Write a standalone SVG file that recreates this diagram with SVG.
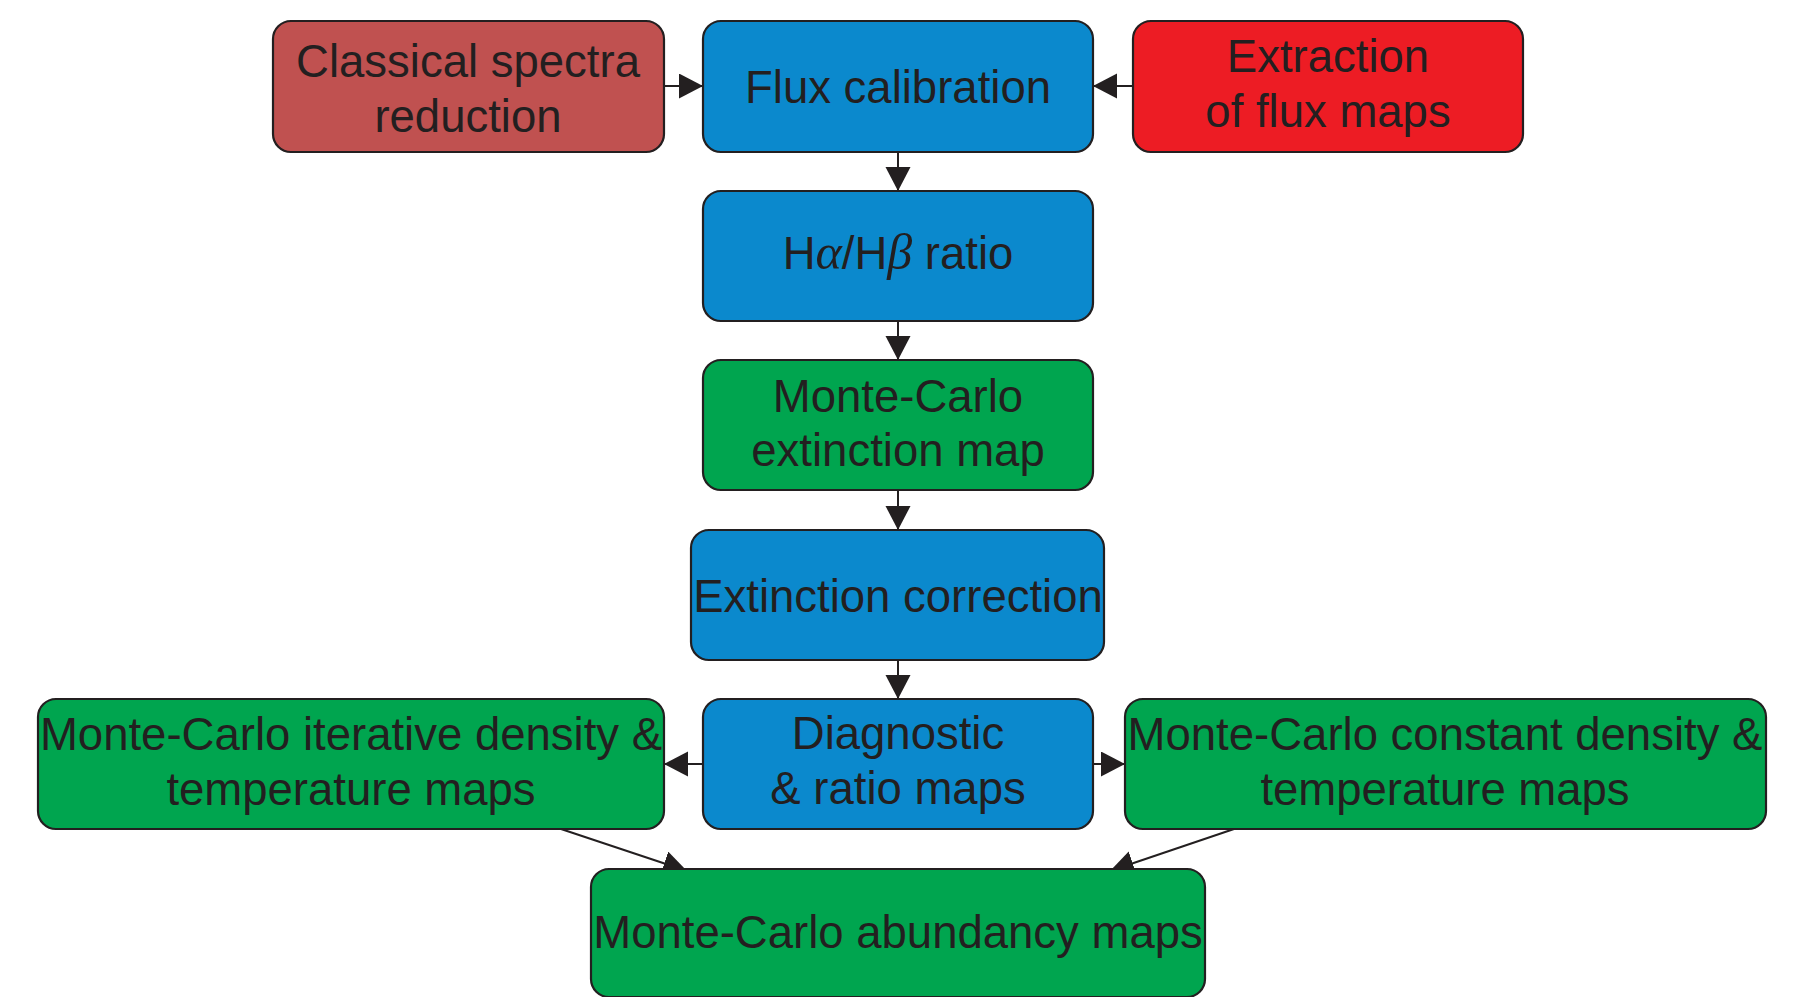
<svg xmlns="http://www.w3.org/2000/svg" width="1804" height="997" viewBox="0 0 1804 997">
<defs>
<style>
.box{stroke:#231f20;stroke-width:2.2}
.red1{fill:#c05150}
.blue{fill:#0b89cd}
.red2{fill:#ed1c24}
.green{fill:#00a54f}
.t{font-family:"Liberation Sans",Arial,sans-serif;font-size:45.5px;fill:#231f20;text-anchor:middle}
.g{font-family:"Liberation Serif","Times New Roman",serif;font-style:italic;font-size:50px}
.c{stroke:#231f20;stroke-width:2;fill:none;marker-end:url(#ah)}
</style>
<marker id="ah" markerUnits="userSpaceOnUse" markerWidth="26" markerHeight="26" refX="24" refY="12.5" orient="auto">
<path d="M0,0 L24,12.5 L0,25 Z" fill="#231f20"/>
</marker>
</defs>
<rect width="1804" height="997" fill="#ffffff"/>
<g id="connectors">
<line class="c" x1="664" y1="86" x2="703" y2="86"/>
<line class="c" x1="1133" y1="86" x2="1093" y2="86"/>
<line class="c" x1="898" y1="152" x2="898" y2="191"/>
<line class="c" x1="898" y1="321" x2="898" y2="360"/>
<line class="c" x1="898" y1="490" x2="898" y2="530"/>
<line class="c" x1="898" y1="660" x2="898" y2="699"/>
<line class="c" x1="703" y1="764" x2="664" y2="764"/>
<line class="c" x1="1093" y1="764" x2="1125" y2="764"/>
<line class="c" x1="561" y1="829" x2="687" y2="871"/>
<line class="c" x1="1234" y1="829" x2="1110" y2="871"/>
</g>
<g id="classical">
<rect class="box red1" x="273" y="21" width="391" height="131" rx="18"/>
<text class="t" x="468" y="77">Classical spectra</text>
<text class="t" x="468" y="132">reduction</text>
</g>
<g id="flux">
<rect class="box blue" x="703" y="21" width="390" height="131" rx="18"/>
<text class="t" x="898" y="103">Flux calibration</text>
</g>
<g id="extraction">
<rect class="box red2" x="1133" y="21" width="390" height="131" rx="18"/>
<text class="t" x="1328" y="72">Extraction</text>
<text class="t" x="1328" y="127">of flux maps</text>
</g>
<g id="ratio">
<rect class="box blue" x="703" y="191" width="390" height="130" rx="18"/>
<text class="t" x="898" y="269">H<tspan class="g">α</tspan>/H<tspan class="g">β</tspan> ratio</text>
</g>
<g id="mcext">
<rect class="box green" x="703" y="360" width="390" height="130" rx="18"/>
<text class="t" x="898" y="412">Monte-Carlo</text>
<text class="t" x="898" y="466">extinction map</text>
</g>
<g id="extcorr">
<rect class="box blue" x="691" y="530" width="413" height="130" rx="18"/>
<text class="t" x="898" y="612">Extinction correction</text>
</g>
<g id="diag">
<rect class="box blue" x="703" y="699" width="390" height="130" rx="18"/>
<text class="t" x="898" y="749">Diagnostic</text>
<text class="t" x="898" y="804">&amp; ratio maps</text>
</g>
<g id="mciter">
<rect class="box green" x="38" y="699" width="626" height="130" rx="18"/>
<text class="t" x="351" y="750">Monte-Carlo iterative density &amp;</text>
<text class="t" x="351" y="805">temperature maps</text>
</g>
<g id="mcconst">
<rect class="box green" x="1125" y="699" width="641" height="130" rx="18"/>
<text class="t" x="1445" y="750">Monte-Carlo constant density &amp;</text>
<text class="t" x="1445" y="805">temperature maps</text>
</g>
<g id="mcabund">
<rect class="box green" x="591" y="869" width="614" height="128" rx="18"/>
<text class="t" x="898" y="948">Monte-Carlo abundancy maps</text>
</g>
</svg>
